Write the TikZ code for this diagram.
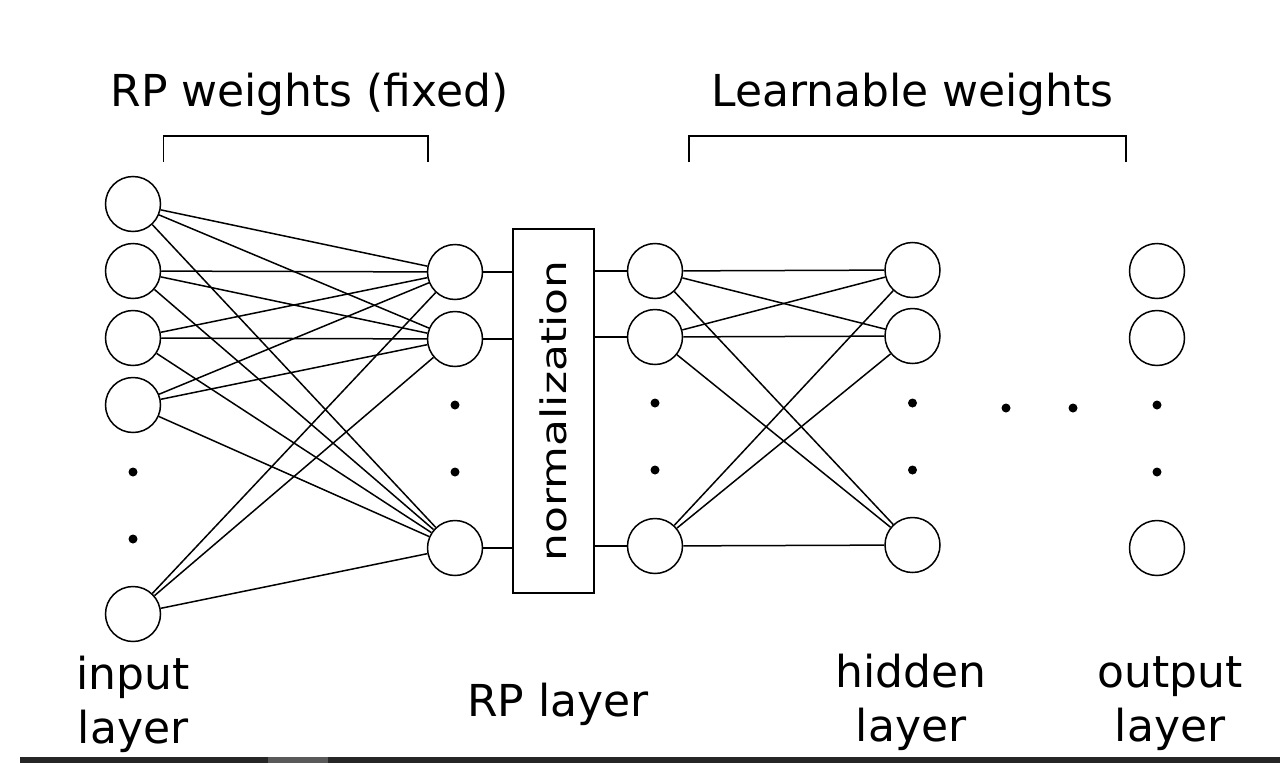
\documentclass[tikz,border=0pt]{standalone}
\usepackage{fontspec}
\setmainfont{DejaVu Sans}
\usepackage{graphicx}
\begin{document}
\begin{tikzpicture}[x=1pt,y=-1pt,
  neuron/.style={circle,draw,line width=1.5pt,minimum size=55pt,inner sep=0pt},
  conn/.style={line width=1.5pt},
  ddot/.style={circle,fill,inner sep=0pt,minimum size=9pt},
  lbl/.style={font=\fontsize{44}{54}\selectfont,inner sep=0pt},
  brk/.style={line width=1.6pt},
  ]
\useasboundingbox (0,0) rectangle (1280,763);
\fill[white] (0,0) rectangle (1280,763);
% screenshot strip at the bottom
\fill[black!85] (20,757) rectangle (1280,763);
\fill[black!65] (268,757) rectangle (328,763);

% input layer
\node[neuron] (i1) at (133,204) {};
\node[neuron] (i2) at (133,271) {};
\node[neuron] (i3) at (133,338) {};
\node[neuron] (i4) at (133,405) {};
\node[neuron] (i5) at (133,614) {};
\node[ddot] (id1) at (133,472) {};
\node[ddot] (id2) at (133,539) {};

% RP layer
\node[neuron] (r1) at (455,272) {};
\node[neuron] (r2) at (455,339) {};
\node[neuron] (r3) at (455,548) {};
\node[ddot] (rd1) at (455,405) {};
\node[ddot] (rd2) at (455,472) {};

% normalization
\node[draw,line width=1.5pt,minimum width=81pt,minimum height=364pt,inner sep=0pt] (norm) at (553.5,411)
  {\rotatebox{90}{\scalebox{1}[0.8]{\fontsize{44}{54}\selectfont normalization}}};

% first learnable layer
\node[neuron] (h1) at (655,271) {};
\node[neuron] (h2) at (655,337) {};
\node[neuron] (h3) at (655,546) {};
\node[ddot] (hd1) at (655,403) {};
\node[ddot] (hd2) at (655,470) {};

% hidden layer
\node[neuron] (g1) at (912.5,270) {};
\node[neuron] (g2) at (912.5,336) {};
\node[neuron] (g3) at (912.5,545) {};
\node[ddot] (gd1) at (912.5,403) {};
\node[ddot] (gd2) at (912.5,470) {};

% output layer
\node[neuron] (o1) at (1157,271) {};
\node[neuron] (o2) at (1157,338) {};
\node[neuron] (o3) at (1157,548) {};
\node[ddot] (od1) at (1157,405) {};
\node[ddot] (od2) at (1157,472) {};

% horizontal dots
\node[ddot] (xd1) at (1006,408) {};
\node[ddot] (xd2) at (1073,408) {};

% connections
\foreach \a in {i1,i2,i3,i4,i5}
  \foreach \b in {r1,r2,r3}
    \draw[conn] (\a) -- (\b);
\foreach \r in {r1,r2,r3}
  \draw[conn] (\r) -- (\r -| norm.west);
\foreach \h in {h1,h2,h3}
  \draw[conn] (\h -| norm.east) -- (\h);
\foreach \a in {h1,h2,h3}
  \foreach \b in {g1,g2,g3}
    \draw[conn] (\a) -- (\b);

% brackets
\coordinate (b1a) at (163.3,162);
\coordinate (b1b) at (427.7,162);
\coordinate (b2a) at (689,162);
\coordinate (b2b) at (1125.7,162);
\draw[brk] (b1a) -- (b1a |- 0,135.7) -- (b1b |- 0,135.7) -- (b1b);
\draw[brk] (b2a) -- (b2a |- 0,135.7) -- (b2b |- 0,135.7) -- (b2b);

% labels
\node[lbl,anchor=base] (t1) at (309.5,106) {RP weights (fixed)};
\node[lbl,anchor=base] (t2) at (912.5,106) {Learnable weights};
\node[lbl,anchor=base,align=center] (l1) at (133,743) {input\\layer};
\node[lbl,anchor=base] (l2) at (558,716) {RP layer};
\node[lbl,anchor=base,align=center] (l3) at (911,741) {hidden\\layer};
\node[lbl,anchor=base,align=center] (l4) at (1170,741) {output\\layer};
\end{tikzpicture}
\end{document}
